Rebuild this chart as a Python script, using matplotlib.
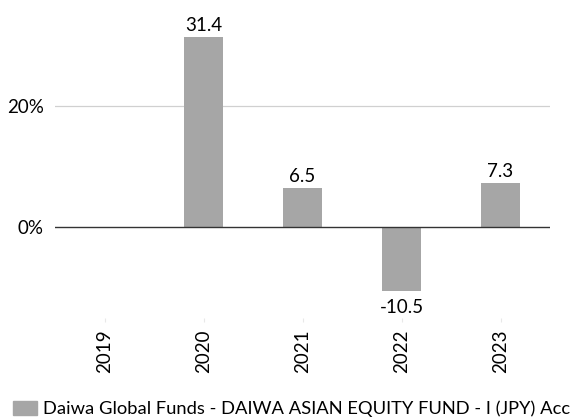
import numpy as np
import matplotlib.pyplot as plt
from matplotlib.patches import Patch

years = ['2019', '2020', '2021', '2022', '2023']
returns = [np.nan, 31.4, 6.5, -10.5, 7.3]
labels = ['', '31.4', '6.5', '-10.5', '7.3']
fund = 'Daiwa Global Funds - DAIWA ASIAN EQUITY FUND - I (JPY) Acc'

plt.rcParams['font.family'] = ['Lato', 'DejaVu Sans']
fs = 13.5

fig = plt.figure(figsize=(5.77, 4.18), dpi=100)
ax = fig.add_axes([55 / 577, 1 - 318 / 418, 495 / 577, 318 / 418])

x = np.arange(len(years))
vals = np.nan_to_num(returns)
ax.bar(x, vals, width=0.4, color='#a6a6a6', zorder=3)

for xi, v, lab in zip(x, vals, labels):
    if lab == '':
        continue
    if v >= 0:
        ax.text(xi, v + 0.5, lab, ha='center', va='bottom', fontsize=fs, color='black')
    else:
        ax.text(xi, v - 1.3, lab, ha='center', va='top', fontsize=fs, color='black')

ax.set_xlim(-0.5, len(years) - 0.5)
ax.set_ylim(-15, 37.5)
ax.set_yticks([0, 20])
ax.set_yticklabels(['0%', '20%'], fontsize=fs)
ax.set_xticks(x)
ax.set_xticklabels(years, rotation=90, fontsize=fs)
ax.tick_params(axis='y', length=0, pad=8)
ax.tick_params(axis='x', length=3, color='#e8e8e8', pad=5)

ax.axhline(20, color='#d0d0d0', lw=0.9, zorder=1)
ax.axhline(0, color='#333333', lw=1.0, zorder=4)
for s in ax.spines.values():
    s.set_visible(False)

fig.legend(handles=[Patch(color='#a6a6a6', label=fund)], loc='lower left',
           bbox_to_anchor=(13 / 577, 1 / 418), frameon=False, fontsize=13.2,
           borderpad=0, borderaxespad=0,
           handlelength=1.3, handleheight=0.8, handletextpad=0.35)

fig.savefig('out.png', dpi=100)
